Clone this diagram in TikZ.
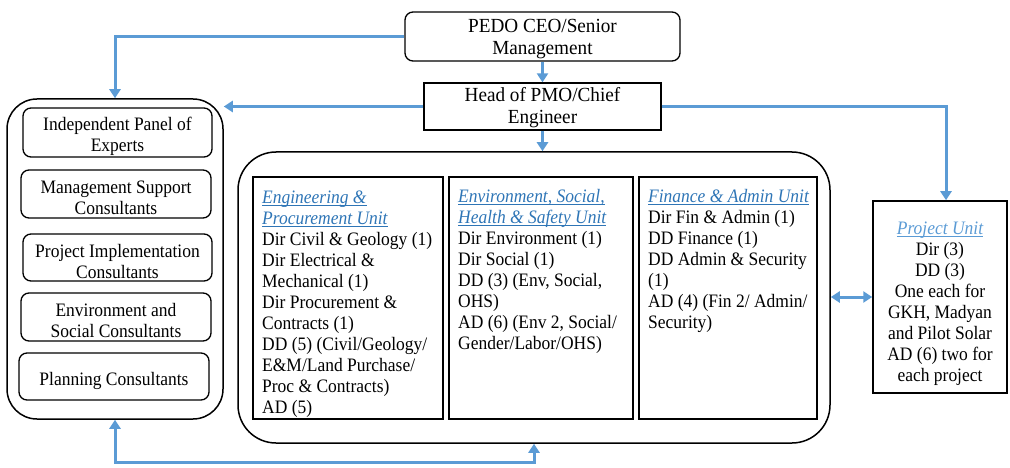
\documentclass[tikz,border=0pt]{standalone}
\usepackage{fontspec}
\setmainfont{Liberation Serif}
\newfontfamily\bodyf{Liberation Serif}[FakeStretch=0.92]
\newfontfamily\topf{Liberation Serif}[FakeStretch=0.96]
\usetikzlibrary{arrows.meta,calc}
\definecolor{arrowblue}{HTML}{5B9BD5}
\definecolor{titleblue}{HTML}{2E75B6}
\definecolor{projblue}{HTML}{5B9BD5}
\newcommand{\myul}[1]{\setbox0\hbox{#1}\rlap{\rule[-2.4pt]{\wd0}{0.8pt}}\box0}
\begin{document}
\begin{tikzpicture}[x=1pt,y=-1pt,
  bodyfont/.style={font=\bodyf\fontsize{19}{21}\selectfont},
  topfont/.style={font=\topf\fontsize{20}{22}\selectfont},
  box/.style={draw=black, line width=1.3pt, inner sep=0pt},
  lbox/.style={box, rounded corners=8pt},
  ltext/.style={bodyfont, inner sep=0pt, align=center},
  ttext/.style={topfont, inner sep=0pt, align=center},
  bigbox/.style={draw=black, line width=1.5pt, inner sep=0pt},
  unitbox/.style={draw=black, line width=1.8pt, inner sep=0pt},
  txt/.style={bodyfont, inner sep=0pt, align=left, anchor=north west},
  conn/.style={draw=arrowblue, line width=3pt, -{Triangle[length=9pt,width=11pt]}},
  conn2/.style={draw=arrowblue, line width=3pt, {Triangle[length=9pt,width=11pt]}-{Triangle[length=9pt,width=11pt]}}
]
\useasboundingbox (0,0) rectangle (1010,468);

% top boxes
\node[box, rounded corners=8pt, minimum width=275pt, minimum height=49pt] (ceo) at (542.5,36.5) {};
\node[ttext] (ceot) at ([yshift=-2.5pt]ceo.center) {PEDO CEO/Senior\\Management};
\node[box, minimum width=237pt, minimum height=47pt] (pmo) at (542.5,106.5) {};
\node[ttext] (pmot) at ([yshift=-1.5pt]pmo.center) {Head of PMO/Chief\\Engineer};

% left panel
\node[bigbox, rounded corners=30pt, minimum width=216pt, minimum height=320pt] (lp) at (115,259) {};
\node[lbox, minimum width=189pt, minimum height=49pt] (ipe) at (117.5,132.5) {};
\node[ltext] (ipet) at ([yshift=-4pt]ipe.center) {Independent Panel of\\Experts};
\node[lbox, minimum width=190pt, minimum height=48pt] (msc) at (116,194) {};
\node[ltext] (msct) at ([yshift=-3.5pt]msc.center) {Management Support\\Consultants};
\node[lbox, minimum width=189pt, minimum height=47pt] (pic) at (117.5,257.5) {};
\node[ltext] (pict) at ([yshift=-4pt]pic.center) {Project Implementation\\Consultants};
\node[lbox, minimum width=190pt, minimum height=48pt] (esc) at (116,317) {};
\node[ltext] (esct) at ([yshift=-3.5pt]esc.center) {Environment and\\Social Consultants};
\node[lbox, minimum width=190pt, minimum height=47pt] (plc) at (114,376.5) {};
\node[ltext] (plct) at ([yshift=-4pt]plc.center) {Planning Consultants};

% middle container and units
\node[bigbox, rounded corners=38pt, minimum width=592pt, minimum height=291pt] (mid) at (534,297.5) {};
\node[unitbox, minimum width=190pt, minimum height=242pt] (eng) at (348,298) {};
\node[unitbox, minimum width=184pt, minimum height=242pt] (eshs) at (541,298) {};
\node[unitbox, minimum width=178pt, minimum height=242pt] (fin) at (728,298) {};

\node[txt] (engt) at (262,191) {{\color{titleblue}\itshape\myul{Engineering \&}}\\
{\color{titleblue}\itshape\myul{Procurement Unit}}\\
Dir Civil \& Geology (1)\\
Dir Electrical \&\\
Mechanical (1)\\
Dir Procurement \&\\
Contracts (1)\\
DD (5) (Civil/Geology/\\
E\&M/Land Purchase/\\
Proc \& Contracts)\\
AD (5)};

\node[txt] (eshst) at (458,189) {{\color{titleblue}\itshape\myul{Environment, Social,}}\\
{\color{titleblue}\itshape\myul{Health \& Safety Unit}}\\
Dir Environment (1)\\
Dir Social (1)\\
DD (3) (Env, Social,\\
OHS)\\
AD (6) (Env 2, Social/\\
Gender/Labor/OHS)};

\node[txt] (fint) at (648,189) {{\color{titleblue}\itshape\myul{Finance \& Admin Unit}}\\
Dir Fin \& Admin (1)\\
DD Finance (1)\\
DD Admin \& Security\\
(1)\\
AD (4) (Fin 2/ Admin/\\
Security)};

% project unit
\node[unitbox, line width=1.5pt, minimum width=134pt, minimum height=192pt] (proj) at (940,297) {};
\node[bodyfont, inner sep=0pt, align=center, anchor=north] (projt) at (940,222) {{\color{projblue}\itshape\myul{Project Unit}}\\
Dir (3)\\
DD (3)\\
One each for\\
GKH, Madyan\\
and Pilot Solar\\
AD (6) two for\\
each project};

% connectors
\draw[conn] (ceo.south) -- (pmo.north);
\draw[conn] (pmo.south) -- (pmo.south |- mid.north);
\draw[conn] (ceo.west) -| (lp.north);
\draw[conn] (pmo.west) -- (pmo.west -| lp.east);
\draw[conn] (pmo.east) -| ([xshift=6pt]proj.north);
\draw[conn2] (mid.east |- proj.west) -- (proj.west);
\draw[conn2] (lp.south) -- ++(0,43) -| (mid.south);
\end{tikzpicture}
\end{document}
